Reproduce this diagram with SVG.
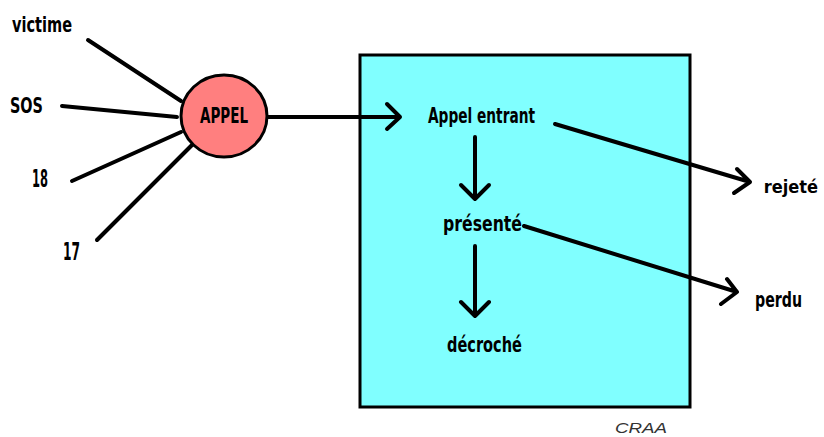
<svg xmlns="http://www.w3.org/2000/svg" width="824" height="437" viewBox="0 0 824 437">
<style>
.t{font-family:"Liberation Sans Narrow","DejaVu Sans Condensed","Liberation Sans",sans-serif;font-weight:bold;font-size:21px;fill:#000}
.d{font-size:25px}
.c{stroke:#000;stroke-width:4;fill:none;stroke-linecap:round;stroke-linejoin:round}
</style>
<rect width="824" height="437" fill="#fff"/>
<g id="box"><rect x="360" y="55" width="330" height="352" fill="#80FFFF" stroke="#000" stroke-width="3"/></g>
<g id="connectors">
<path class="c" d="M88 40 L181 101"/>
<path class="c" d="M62 106 L177 117"/>
<path class="c" d="M72 181 L181 132"/>
<path class="c" d="M97 240 L192 145"/>
<path class="c" d="M267 117 L400 117 M387 104 L400 117 L387 129"/>
<path class="c" d="M475 137 L475 199 M461 185 L475 199 L489 185"/>
<path class="c" d="M475 246 L475 316 M461 302 L475 316 L489 302"/>
<path class="c" d="M555 124 L750 182 M737 169 L750 182 L734 193"/>
<path class="c" d="M524 226 L737 292 M727 279 L737 292 L721 304"/>
</g>
<g id="appel"><ellipse cx="224" cy="116" rx="43" ry="41" fill="#FF7F7F" stroke="#000" stroke-width="3"/><text class="t" x="224" y="123" text-anchor="middle" textLength="48" lengthAdjust="spacingAndGlyphs">APPEL</text></g>
<g id="victime"><text class="t" x="12" y="32" textLength="60" lengthAdjust="spacingAndGlyphs">victime</text></g>
<g id="sos"><text class="t" x="10" y="113" textLength="33" lengthAdjust="spacingAndGlyphs">SOS</text></g>
<g id="n18"><text class="t d" x="32" y="187" textLength="16" lengthAdjust="spacingAndGlyphs">18</text></g>
<g id="n17"><text class="t d" x="63" y="260" textLength="17" lengthAdjust="spacingAndGlyphs">17</text></g>
<g id="entrant"><text class="t" x="428" y="123" textLength="107" lengthAdjust="spacingAndGlyphs">Appel entrant</text></g>
<g id="presente"><text class="t" x="443" y="231" textLength="79" lengthAdjust="spacingAndGlyphs">présenté</text></g>
<g id="decroche"><text class="t" x="447" y="352" textLength="75" lengthAdjust="spacingAndGlyphs">décroché</text></g>
<g id="rejete"><text class="t" x="818" y="193" text-anchor="end" style="font-size:18px">rejeté</text></g>
<g id="perdu"><text class="t" x="755" y="307" textLength="47" lengthAdjust="spacingAndGlyphs">perdu</text></g>
<text x="615" y="433" font-family="Liberation Sans,sans-serif" font-style="italic" font-size="14" fill="#333" textLength="52" lengthAdjust="spacingAndGlyphs">CRAA</text>
</svg>
